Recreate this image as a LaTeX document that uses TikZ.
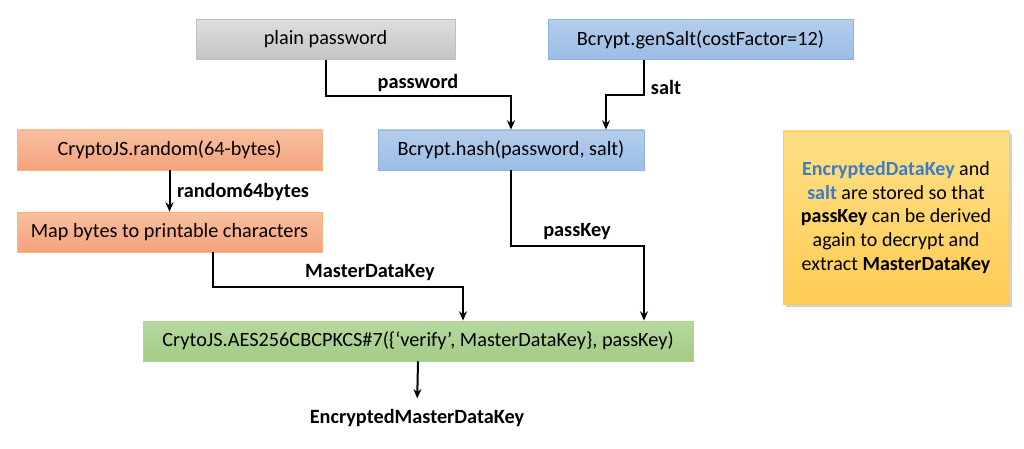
\documentclass[tikz,border=0pt]{standalone}
\usepackage{fontspec}
\setmainfont{Carlito}
\usetikzlibrary{arrows.meta,shadows,calc}
\definecolor{grayT}{HTML}{DEDEDE}
\definecolor{grayB}{HTML}{C4C4C4}
\definecolor{grayD}{HTML}{BFBFBF}
\definecolor{blueT}{HTML}{B4CDEB}
\definecolor{blueB}{HTML}{9BBDE6}
\definecolor{blueD}{HTML}{8DB3E2}
\definecolor{orT}{HTML}{F8BFA0}
\definecolor{orB}{HTML}{F5A27C}
\definecolor{orD}{HTML}{F79646}
\definecolor{grT}{HTML}{B7D89F}
\definecolor{grB}{HTML}{A2CC85}
\definecolor{grD}{HTML}{9BBB59}
\definecolor{yeT}{HTML}{FFDF85}
\definecolor{yeB}{HTML}{FFCC55}
\definecolor{yeD}{HTML}{FFC94A}
\definecolor{txtblue}{HTML}{3B7DC4}
\begin{document}
\begin{tikzpicture}[x=0.75pt,y=-0.75pt,
  box/.style={draw, line width=0.6pt, inner sep=0pt, minimum height=30pt,
    font=\fontsize{15.2}{18}\selectfont, shading=axis, shading angle=0},
  graybox/.style={box, draw=grayD, top color=grayT, bottom color=grayB},
  bluebox/.style={box, draw=blueD, top color=blueT, bottom color=blueB},
  orbox/.style={box, draw=orD!70, top color=orT, bottom color=orB},
  grbox/.style={box, draw=grD!70, top color=grT, bottom color=grB},
  lbl/.style={font=\fontsize{15.2}{18}\selectfont\bfseries, inner sep=0pt},
  arr/.style={-{Stealth[length=7pt,width=6pt]}, line width=1.5pt},
  ln/.style={line width=1.5pt}
]
\useasboundingbox (0,0) rectangle (1024,449);

\node[graybox, minimum width=194.25pt] (plain) at (325.5,39.5) {plain password};
\node[bluebox, minimum width=228.75pt] (gensalt) at (700.5,39.5) {Bcrypt.genSalt(costFactor=12)};
\node[orbox, minimum width=228.75pt] (random) at (169.5,150) {CryptoJS.random(64-bytes)};
\node[orbox, minimum width=228.75pt] (map) at (169.5,232) {Map bytes to printable characters};
\node[bluebox, minimum width=199.5pt] (hash) at (511,150) {Bcrypt.hash(password, salt)};
\node[grbox, minimum width=412.5pt] (aes) at (418,341) {CrytoJS.AES256CBCPKCS\#7(\{‘verify’, MasterDataKey\}, passKey)};

\node[draw=yeD, line width=0.6pt, shading=axis, shading angle=0, top color=yeT, bottom color=yeB,
  drop shadow={shadow xshift=2pt, shadow yshift=-2pt, fill=black!35, opacity=0.5},
  minimum width=169.5pt, minimum height=129.75pt, inner sep=0pt, align=center,
  font=\fontsize{15}{17.8}\selectfont] (note) at (896,217.5)
  {\textbf{\color{txtblue}EncryptedDataKey} and\\
   \textbf{\color{txtblue}salt} are stored so that\\
   \textbf{passKey} can be derived\\
   again to decrypt and\\
   extract \textbf{MasterDataKey}};

\node[lbl] (enc) at (417,418) {EncryptedMasterDataKey};

% connectors
\draw[arr] (plain.south) -- ++(0,36) -| (hash.north);
\draw[arr] ($(gensalt.south west)+(96,0)$) -- ++(0,35) -| ($(hash.north)+(95,0)$);
\draw[arr] (random) -- (map);
\draw[arr] (hash.south) -- ++(0,76) -| ($(aes.north)+(226,0)$);
\draw[arr] ($(map.south)+(43.5,0)$) -- ++(0,35) -| ($(aes.north)+(45,0)$);
\draw[arr, shorten >=8pt] (aes.south) -- (enc.north);

% labels
\node[lbl] (lpw) at (418,83) {password};
\node[lbl] (lsalt) at (666,87) {salt};
\node[lbl] (lrand) at (243,192) {random64bytes};
\node[lbl] (lpk) at (577,232) {passKey};
\node[lbl] (lmdk) at (370,273) {MasterDataKey};
\end{tikzpicture}
\end{document}
